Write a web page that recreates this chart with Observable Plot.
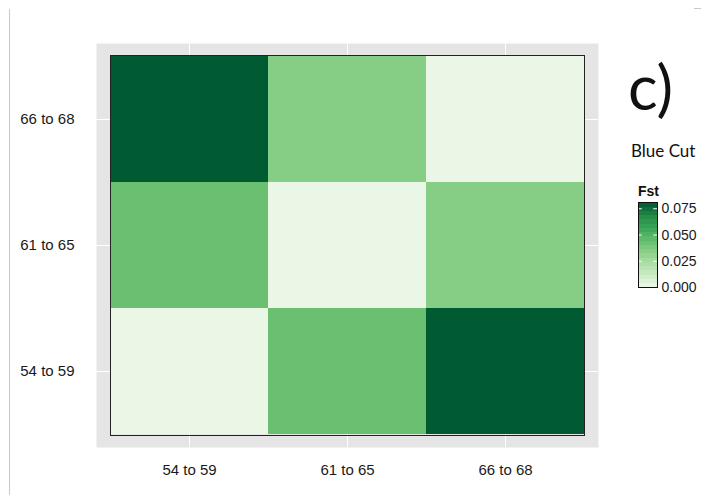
<!DOCTYPE html>
<html>
<head>
<meta charset="utf-8">
<script src="https://cdn.jsdelivr.net/npm/d3@7"></script>
<script src="https://cdn.jsdelivr.net/npm/@observablehq/plot@0.6"></script>
<style>
  html, body { margin: 0; padding: 0; background: #fff; }
  #wrap { position: relative; width: 701px; height: 495px; overflow: hidden; font-family: "Liberation Sans", Arial, sans-serif; }
  .abs { position: absolute; white-space: nowrap; }
</style>
</head>
<body>
<div id="wrap"></div>
<script>
// ---- data ----
const xCats = ["54 to 59", "61 to 65", "66 to 68"];
const yCats = ["54 to 59", "61 to 65", "66 to 68"]; // bottom to top
const cellX = ["54 to 59", "61 to 65", "66 to 68",
               "54 to 59", "61 to 65", "66 to 68",
               "54 to 59", "61 to 65", "66 to 68"];
const cellY = ["66 to 68", "66 to 68", "66 to 68",
               "61 to 65", "61 to 65", "61 to 65",
               "54 to 59", "54 to 59", "54 to 59"];
const fst = [0.081, 0.035, 0.001,
             0.043, 0.001, 0.035,
             0.001, 0.043, 0.081];
const legendTicks = [0, 0.025, 0.05, 0.075];
const greens = ["#edf8e9", "#c7e9c0", "#a1d99b", "#74c476", "#41ab5d", "#238b45", "#005a32"];
const panelTitle = "c)";
const siteName = "Blue Cut";
const legendTitle = "Fst";

const data = fst.map((v, i) => ({x: cellX[i], y: cellY[i], fst: v}));
const fstMax = d3.max(fst);
const interp = d3.piecewise(d3.interpolateRgb, greens);
const colorScale = {type: "linear", domain: [0, fstMax], interpolate: interp};

const wrap = document.getElementById("wrap");

const main = Plot.plot({
  width: 701, height: 495,
  marginLeft: 110, marginRight: 117, marginTop: 55, marginBottom: 60,
  x: {domain: xCats, padding: 0, label: null},
  y: {domain: yCats.slice().reverse(), padding: 0, label: null},
  color: colorScale,
  style: {fontFamily: "'Liberation Sans', Arial, sans-serif", fontSize: "15px", color: "#1a1a1a", background: "transparent"},
  marks: [
    Plot.frame({fill: "#e5e5e5", insetLeft: -14, insetRight: -14, insetTop: -12, insetBottom: -12}),
    Plot.gridX({stroke: "white", strokeOpacity: 1, strokeWidth: 1, insetTop: -12, insetBottom: -12}),
    Plot.gridY({stroke: "white", strokeOpacity: 1, strokeWidth: 1, insetLeft: -14, insetRight: -14}),
    Plot.cell(data, {x: "x", y: "y", fill: "fst"}),
    Plot.frame({stroke: "#222", strokeWidth: 1}),
    Plot.axisX({tickSize: 0, tickPadding: 29, label: null}),
    Plot.axisY({tickSize: 0, tickPadding: 36, label: null})
  ]
});
main.style.position = "absolute";
main.style.left = "0px";
main.style.top = "0px";
wrap.appendChild(main);

// legend colorbar
const legend = Plot.plot({
  width: 71, height: 110,
  marginLeft: 8, marginRight: 44, marginTop: 17, marginBottom: 8,
  x: {domain: [0, 1], axis: null},
  y: {domain: [0, fstMax], axis: null},
  color: colorScale,
  style: {fontFamily: "'Liberation Sans', Arial, sans-serif", fontSize: "14px", color: "#1a1a1a", background: "transparent", overflow: "visible"},
  marks: [
    Plot.raster({x1: 0, x2: 1, y1: 0, y2: fstMax, width: 1, height: 20, fill: (x, y) => y, imageRendering: "pixelated"}),
    Plot.ruleY(legendTicks.slice(1), {y: d => d, x1: 0, x2: 0.2, stroke: "white", strokeWidth: 1}),
    Plot.ruleY(legendTicks.slice(1), {y: d => d, x1: 0.8, x2: 1, stroke: "white", strokeWidth: 1}),
    Plot.frame({stroke: "#111", strokeWidth: 1}),
    Plot.axisY({anchor: "right", ticks: legendTicks, tickFormat: d3.format(".3f"), tickSize: 0, tickPadding: 4, label: null})
  ]
});
legend.style.position = "absolute";
legend.style.left = "630px";
legend.style.top = "185px";
wrap.appendChild(legend);

// texts
function addText(txt, css) {
  const d = document.createElement("div");
  d.className = "abs";
  d.textContent = txt;
  Object.assign(d.style, css);
  wrap.appendChild(d);
}
addText(panelTitle, {left: "628px", top: "51px", fontFamily: "Lato, 'Open Sans', sans-serif", fontSize: "62px", lineHeight: "70px", color: "#111"});
addText(siteName, {left: "631px", top: "139px", fontFamily: "Lato, 'Open Sans', sans-serif", fontSize: "17px", lineHeight: "24px", color: "#111"});
addText(legendTitle, {left: "638px", top: "183px", fontFamily: "'Liberation Sans', Arial, sans-serif", fontSize: "14px", fontWeight: "bold", lineHeight: "16px", color: "#111"});

// decorative lines
const vline = document.createElement("div");
vline.className = "abs";
Object.assign(vline.style, {left: "9px", top: "9px", width: "1px", height: "486px", background: "#c8c8c8"});
wrap.appendChild(vline);
const dash = document.createElement("div");
dash.className = "abs";
Object.assign(dash.style, {left: "694px", top: "8px", width: "7px", height: "1px", background: "#c8c8c8"});
wrap.appendChild(dash);
</script>
</body>
</html>
